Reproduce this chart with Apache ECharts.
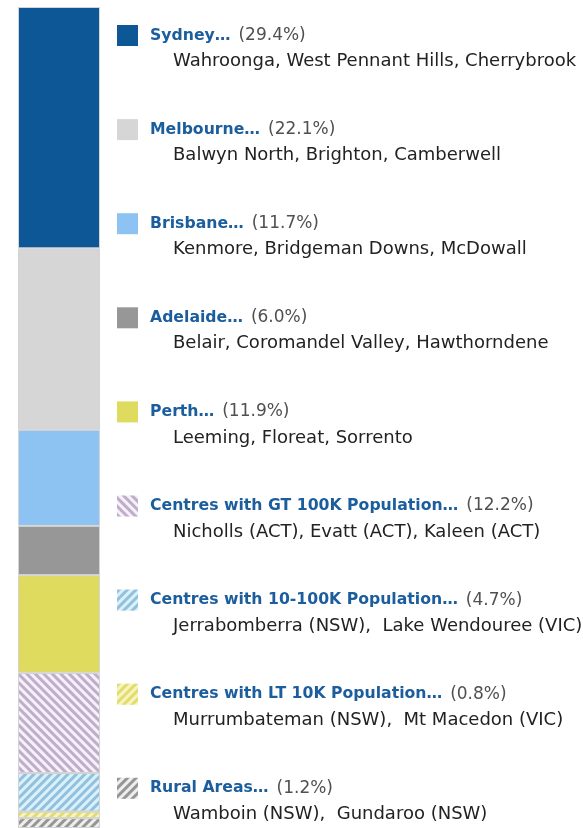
<!DOCTYPE html>
<html>
<head>
<meta charset="utf-8">
<script src="https://cdn.jsdelivr.net/npm/echarts@6/dist/echarts.min.js"></script>
<style>
  html, body { margin: 0; padding: 0; background: #fff; }
  #main { width: 583px; height: 828px; }
</style>
</head>
<body>
<div id="main"></div>
<script>
// ---- data
var regions = ['Sydney', 'Melbourne', 'Brisbane', 'Adelaide', 'Perth',
  'Centres with GT 100K Population', 'Centres with 10-100K Population',
  'Centres with LT 10K Population', 'Rural Areas'];
var shares = [29.4, 22.1, 11.7, 6.0, 11.9, 12.2, 4.7, 0.8, 1.2];
var suburbs = [
  'Wahroonga, West Pennant Hills, Cherrybrook',
  'Balwyn North, Brighton, Camberwell',
  'Kenmore, Bridgeman Downs, McDowall',
  'Belair, Coromandel Valley, Hawthorndene',
  'Leeming, Floreat, Sorrento',
  'Nicholls (ACT), Evatt (ACT), Kaleen (ACT)',
  'Jerrabomberra (NSW),  Lake Wendouree (VIC)',
  'Murrumbateman (NSW),  Mt Macedon (VIC)',
  'Wamboin (NSW),  Gundaroo (NSW)'
];

// ---- styles
var fills = ['#0e5796', '#d6d6d6', '#8cc3f2', '#979797', '#dedb5f',
  '#f6f0f8', '#daf1fb', '#f7f5bd', '#eeeeee'];
var hatch = [null, null, null, null, null,
  {color: '#bfaecb', rot: Math.PI / 4},
  {color: '#92c1dd', rot: -Math.PI / 4},
  {color: '#e0dc70', rot: -Math.PI / 4},
  {color: '#969696', rot: -Math.PI / 4}];

var font = 'DejaVu Sans';

var myChart = echarts.init(document.getElementById('main'));

var series = regions.map(function (name, i) {
  var style = {color: fills[i], borderColor: '#d4d4d4', borderWidth: 1};
  if (hatch[i]) {
    style.decal = {
      symbol: 'rect',
      symbolSize: 1,
      dashArrayX: [1, 0],
      dashArrayY: [3, 3],
      rotation: hatch[i].rot,
      color: hatch[i].color
    };
  }
  return {
    name: name,
    type: 'bar',
    stack: 'total',
    barWidth: '100%',
    data: [shares[i]],
    itemStyle: style,
    emphasis: {disabled: true}
  };
});

var option = {
  animation: false,
  textStyle: {fontFamily: font},
  grid: {left: 18, top: 7, width: 82, bottom: 0},
  xAxis: {type: 'category', data: ['Share'], show: false},
  yAxis: {type: 'value', min: 0, max: 100, inverse: true, show: false},
  legend: [
    {
      data: regions,
      orient: 'vertical',
      left: 117,
      top: 25,
      padding: 0,
      icon: 'rect',
      itemWidth: 21,
      itemHeight: 21,
      itemGap: 73.1,
      selectedMode: false,
      itemStyle: {borderWidth: 0},
      formatter: function (name) {
        var i = regions.indexOf(name);
        return '{n|' + name + '…}{p|(' + shares[i].toFixed(1) + '%)}';
      },
      textStyle: {
        rich: {
          n: {fontFamily: font, fontWeight: 'bold', fontSize: 15.7, lineHeight: 21, color: '#1b5d9d', padding: [0, 8, 0, 7]},
          p: {fontFamily: font, fontSize: 17, lineHeight: 21, color: '#505050'}
        }
      }
    },
    {
      data: regions,
      orient: 'vertical',
      left: 168,
      top: 51,
      padding: 0,
      icon: 'none',
      itemWidth: 0,
      itemHeight: 21,
      itemGap: 73.1,
      selectedMode: false,
      formatter: function (name) {
        return suburbs[regions.indexOf(name)];
      },
      textStyle: {fontFamily: font, fontSize: 18, lineHeight: 21, color: '#222'}
    }
  ],
  series: series
};

myChart.setOption(option);
</script>
</body>
</html>
